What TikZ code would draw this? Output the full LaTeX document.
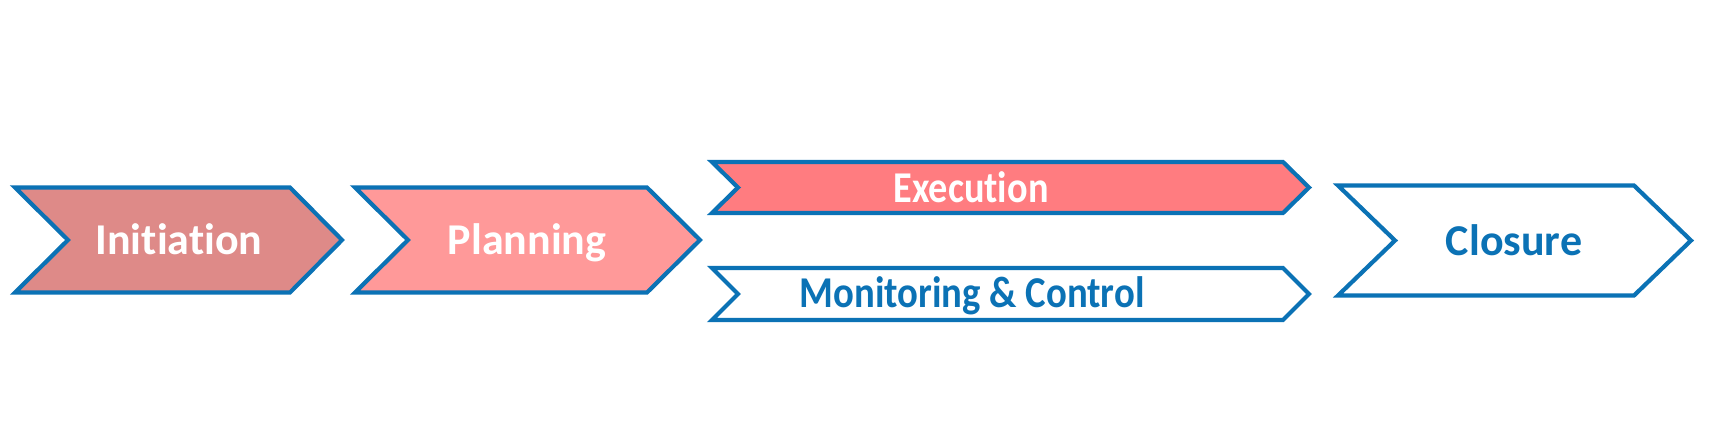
\documentclass[tikz,border=0pt]{standalone}
\usepackage{fontspec}
\setmainfont[Ligatures={NoCommon,NoRare}]{Carlito}
\definecolor{edgeblue}{HTML}{0B72B5}
\definecolor{initfill}{HTML}{DE8A88}
\definecolor{planfill}{HTML}{FF9999}
\definecolor{execfill}{HTML}{FF7C80}
\tikzset{
  chev/.style={draw=edgeblue, line width=4.2pt, line join=miter},
  lbl/.style={font=\fontsize{44}{52}\selectfont\bfseries, anchor=base, inner sep=0pt},
}
\begin{document}
\begin{tikzpicture}[x=1pt,y=-1pt]
\useasboundingbox (0,0) rectangle (1735,439);
% Initiation
\draw[chev, fill=initfill] (15,187.5) -- (290,187.5) -- (342,240) -- (290,292.5) -- (15,292.5) -- (68,240) -- cycle;
\node[lbl, text=white] (init) at (179,254) {Initiation};
% Planning
\draw[chev, fill=planfill] (355,187.5) -- (647,187.5) -- (700,240) -- (647,292.5) -- (355,292.5) -- (408,240) -- cycle;
\node[lbl, text=white] (plan) at (527,254) {Planning};
% Execution
\draw[chev, fill=execfill] (712,162) -- (1283,162) -- (1309,187.5) -- (1283,213) -- (712,213) -- (738,187.5) -- cycle;
\node[lbl, text=white] (exec) at (971,202) {\scalebox{0.87}[1]{Execution}};
% Monitoring & Control
\draw[chev, fill=white] (712,268) -- (1283,268) -- (1309,294) -- (1283,320) -- (712,320) -- (738,294) -- cycle;
\node[lbl, text=edgeblue] (mon) at (972,307) {\scalebox{0.88}[1]{Monitoring \& Control}};
% Closure
\draw[chev, fill=white] (1338,185.5) -- (1634,185.5) -- (1691,240.5) -- (1634,295.5) -- (1338,295.5) -- (1395,240.5) -- cycle;
\node[lbl, text=edgeblue] (clos) at (1514,255) {Closure};
\end{tikzpicture}
\end{document}
